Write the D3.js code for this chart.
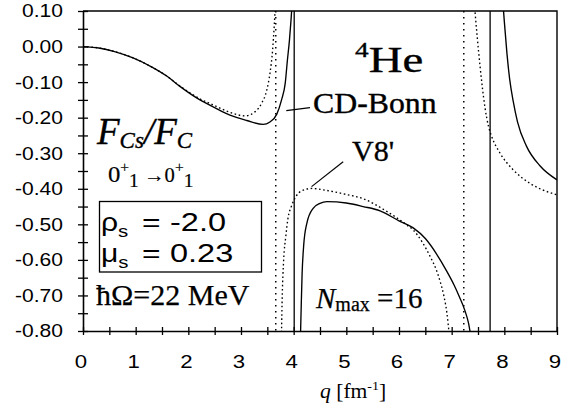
<!DOCTYPE html>
<html>
<head>
<meta charset="utf-8">
<script src="https://cdn.jsdelivr.net/npm/d3@7"></script>
<style>
  html, body { margin: 0; padding: 0; background: #fff; }
  svg { display: block; }
  .sans { font-family: "Liberation Sans", Arial, sans-serif; }
  .serif { font-family: "Liberation Serif", "Times New Roman", serif; }
</style>
</head>
<body>
<svg id="chart" width="574" height="411"></svg>
<script>
// Axis ranges and tick labels
const xDomain = [0, 9];
const yDomain = [-0.8, 0.1];
const xTickValues = [0, 1, 2, 3, 4, 5, 6, 7, 8, 9];
const xTickLabels = ["0", "1", "2", "3", "4", "5", "6", "7", "8", "9"];
const yTickValues = [0.10, 0.00, -0.10, -0.20, -0.30, -0.40, -0.50, -0.60, -0.70, -0.80];
const yTickLabels = ["0.10", "0.00", "-0.10", "-0.20", "-0.30", "-0.40", "-0.50", "-0.60", "-0.70", "-0.80"];

// CD-Bonn (solid) F_Cs/F_C, one array per branch between poles: [q, ratio]
const cdBonnLow = [[0, 0], [0.3, -0.004], [0.6, -0.014], [0.95, -0.032], [1.3, -0.057], [1.59, -0.083],
  [1.84, -0.112], [2.22, -0.150], [2.5, -0.172], [2.79, -0.193], [3.11, -0.208], [3.42, -0.219],
  [3.55, -0.212], [3.68, -0.190], [3.77, -0.150], [3.84, -0.103], [3.88, -0.040], [3.92, 0.018],
  [3.95, 0.075], [3.97, 0.12]];
const cdBonnMid = [[4.125, -0.84], [4.14, -0.75], [4.16, -0.64], [4.19, -0.56], [4.25, -0.497],
  [4.37, -0.455], [4.5, -0.441], [4.63, -0.436], [5.0, -0.440], [5.32, -0.450], [5.64, -0.462],
  [6.0, -0.490], [6.27, -0.510], [6.5, -0.540], [6.72, -0.585], [6.9, -0.630], [7.05, -0.672],
  [7.15, -0.705], [7.25, -0.742], [7.32, -0.778], [7.37, -0.82]];
const cdBonnHigh = [[7.975, 0.12], [8.0, 0.07], [8.05, -0.02], [8.1, -0.09], [8.17, -0.155],
  [8.25, -0.212], [8.42, -0.280], [8.68, -0.336], [9.0, -0.375]];

// V8' (dotted) F_Cs/F_C
const v8Low = [[0, 0], [0.3, -0.004], [0.6, -0.014], [0.95, -0.032], [1.3, -0.057], [1.59, -0.083],
  [1.84, -0.111], [2.22, -0.147], [2.5, -0.166], [2.79, -0.185], [3.08, -0.195], [3.27, -0.183],
  [3.39, -0.160], [3.49, -0.122], [3.55, -0.075], [3.60, -0.010], [3.63, 0.056], [3.655, 0.12]];
const v8Mid = [[3.765, -0.84], [3.78, -0.72], [3.81, -0.60], [3.85, -0.535], [3.89, -0.485],
  [3.96, -0.448], [4.05, -0.420], [4.15, -0.406], [4.35, -0.399], [4.6, -0.404], [5.0, -0.416],
  [5.32, -0.428], [5.75, -0.462], [6.15, -0.502], [6.27, -0.516], [6.45, -0.552], [6.59, -0.590],
  [6.70, -0.625], [6.78, -0.660], [6.85, -0.700], [6.91, -0.750], [6.96, -0.82]];
const v8High = [[7.43, 0.12], [7.54, -0.057], [7.63, -0.169], [7.70, -0.225], [7.76, -0.253],
  [7.92, -0.300], [8.17, -0.347], [8.49, -0.385], [9.0, -0.417]];

// Pole positions where each curve jumps from +inf to -inf
const cdBonnPoles = [4.01, 7.73];
const v8Poles = [3.66, 7.23];

// Curve labels with their leader lines [q, ratio]
const cdBonnLeader = [[3.86, -0.180], [4.31, -0.172]];
const v8Leader = [[4.34, -0.394], [4.94, -0.324]];

const svg = d3.select("#chart");
const plot = { left: 83, right: 557, top: 11, bottom: 331 };

const x = d3.scaleLinear().domain(xDomain).range([plot.left, plot.right]);
const y = d3.scaleLinear().domain(yDomain).range([plot.bottom, plot.top]);

svg.append("defs").append("clipPath").attr("id", "plotClip")
  .append("rect")
  .attr("x", plot.left).attr("y", plot.top)
  .attr("width", plot.right - plot.left).attr("height", plot.bottom - plot.top);

// Frame (top and right)
svg.append("path")
  .attr("d", `M${plot.left},${plot.top}H${plot.right}V${plot.bottom}`)
  .attr("fill", "none").attr("stroke", "#000").attr("stroke-width", 1.4);

// Axes with ticks crossing the axis line
const xAxis = d3.axisBottom(x)
  .tickValues(d3.range(0, 9.001, 0.5))
  .tickSize(0).tickFormat("");
const gx = svg.append("g").attr("transform", `translate(0,${plot.bottom})`).call(xAxis);
gx.select(".domain").attr("stroke-width", 1.6);
gx.selectAll(".tick line").attr("y1", -4).attr("y2", 4).attr("stroke-width", 1.3);

const yAxis = d3.axisLeft(y)
  .tickValues(d3.range(-0.8, 0.1001, 0.05))
  .tickSize(0).tickFormat("");
const gy = svg.append("g").attr("transform", `translate(${plot.left},0)`).call(yAxis);
gy.select(".domain").attr("stroke-width", 1.6);
gy.selectAll(".tick line").attr("x1", -5).attr("x2", 5).attr("stroke-width", 1.3);

// Tick labels (wide sans digits)
const labelScaleX = 1.17;
svg.append("g").selectAll("text").data(yTickValues).join("text")
  .attr("class", "sans")
  .attr("transform", d => `translate(63,${y(d)}) scale(${labelScaleX},1)`)
  .attr("text-anchor", "end").attr("dy", "0.36em")
  .attr("font-size", 18)
  .text((d, i) => yTickLabels[i]);

svg.append("g").selectAll("text").data(xTickValues).join("text")
  .attr("class", "sans")
  .attr("transform", d => `translate(${x(d) - 2},368) scale(${labelScaleX},1)`)
  .attr("text-anchor", "middle")
  .attr("font-size", 19)
  .text((d, i) => xTickLabels[i]);

// Axis title
const xt = svg.append("text").attr("class", "serif")
  .attr("transform", "translate(320,398) scale(1.08,1)").attr("font-size", 20);
xt.append("tspan").attr("font-style", "italic").text("q");
xt.append("tspan").text(" [fm");
xt.append("tspan").attr("font-size", 13).attr("dy", -8).text("-1");
xt.append("tspan").attr("dy", 8).text("]");

// Curves
const line = d3.line().x(d => x(d[0])).y(d => y(d[1])).curve(d3.curveMonotoneX);
const curves = svg.append("g").attr("clip-path", "url(#plotClip)");

[cdBonnLow, cdBonnMid, cdBonnHigh].forEach(b => {
  curves.append("path").attr("d", line(b))
    .attr("fill", "none").attr("stroke", "#000").attr("stroke-width", 1.35);
});
[v8Low, v8Mid, v8High].forEach(b => {
  curves.append("path").attr("d", line(b))
    .attr("fill", "none").attr("stroke", "#000").attr("stroke-width", 1.35)
    .attr("stroke-dasharray", "1.6,2.6");
});

// Vertical jumps at the poles
cdBonnPoles.forEach(q => {
  curves.append("line")
    .attr("x1", x(q)).attr("x2", x(q)).attr("y1", y(yDomain[1])).attr("y2", y(yDomain[0]))
    .attr("stroke", "#000").attr("stroke-width", 1.3);
});
v8Poles.forEach(q => {
  curves.append("line")
    .attr("x1", x(q)).attr("x2", x(q)).attr("y1", y(yDomain[1])).attr("y2", y(yDomain[0]))
    .attr("stroke", "#000").attr("stroke-width", 1.5).attr("stroke-dasharray", "1.6,4.4");
});

// Leader lines
[cdBonnLeader, v8Leader].forEach(l => {
  svg.append("line")
    .attr("x1", x(l[0][0])).attr("y1", y(l[0][1]))
    .attr("x2", x(l[1][0])).attr("y2", y(l[1][1]))
    .attr("stroke", "#000").attr("stroke-width", 1.2);
});

// Annotations (slightly heavy serif lettering)
function serifText(tx, ty, size, sx) {
  return svg.append("text").attr("class", "serif")
    .attr("transform", `translate(${tx},${ty}) scale(${sx},1)`)
    .attr("font-size", size)
    .attr("stroke", "#000").attr("stroke-width", 0.35);
}

const he = serifText(355, 72, 36, 1.3);
he.append("tspan").attr("font-size", 21).attr("dy", -15).text("4");
he.append("tspan").attr("dy", 15).text("He");

serifText(313, 113, 30, 1.06).text("CD-Bonn");
serifText(352, 161, 30, 1.0).text("V8'");

const ratio = serifText(97, 144, 37, 1.0).attr("font-style", "italic");
ratio.append("tspan").text("F");
ratio.append("tspan").attr("font-size", 23).attr("dy", 4).text("Cs");
ratio.append("tspan").attr("dy", -4).text("/F");
ratio.append("tspan").attr("font-size", 23).attr("dy", 4).text("C");

const trans = serifText(108, 182, 24, 1.03).attr("stroke-width", 0.2);
trans.append("tspan").text("0");
trans.append("tspan").attr("font-size", 15).attr("dy", -10).text("+");
trans.append("tspan").attr("font-size", 19).attr("dy", 15).text("1");
trans.append("tspan").attr("font-size", 20).attr("dy", -5).text(" \u21920");
trans.append("tspan").attr("font-size", 15).attr("dy", -10).text("+");
trans.append("tspan").attr("font-size", 19).attr("dy", 15).text("1");

svg.append("rect").attr("x", 99.5).attr("y", 201.5).attr("width", 162).attr("height", 70.5)
  .attr("fill", "none").attr("stroke", "#000").attr("stroke-width", 1.3);

// Strange-quark parameters inside the box
function sansText(tx, ty, size, sx) {
  return svg.append("text").attr("class", "sans")
    .attr("transform", `translate(${tx},${ty}) scale(${sx},1)`)
    .attr("font-size", size);
}
function paramLine(sym, val, yb) {
  const t = sansText(101, yb, 25, 1.2);
  t.append("tspan").text(sym);
  t.append("tspan").attr("font-size", 17).attr("dy", 6).text("s");
  sansText(142, yb, 25, 1.27).text("=");
  sansText(170, yb, 25, 1.3).text(val);
}
paramLine("\u03c1", "-2.0", 231);
paramLine("\u03bc", "0.23", 262);

serifText(96, 305, 30, 1.0).attr("stroke-width", 0.25).text("\u0127\u03a9=22 MeV");

const nmax = serifText(316, 308, 29, 1.0).attr("stroke-width", 0.25);
nmax.append("tspan").attr("font-style", "italic").text("N");
nmax.append("tspan").attr("font-size", 20).attr("dy", 3).text("max");
nmax.append("tspan").attr("dy", -3).text(" =16");
</script>
</body>
</html>
